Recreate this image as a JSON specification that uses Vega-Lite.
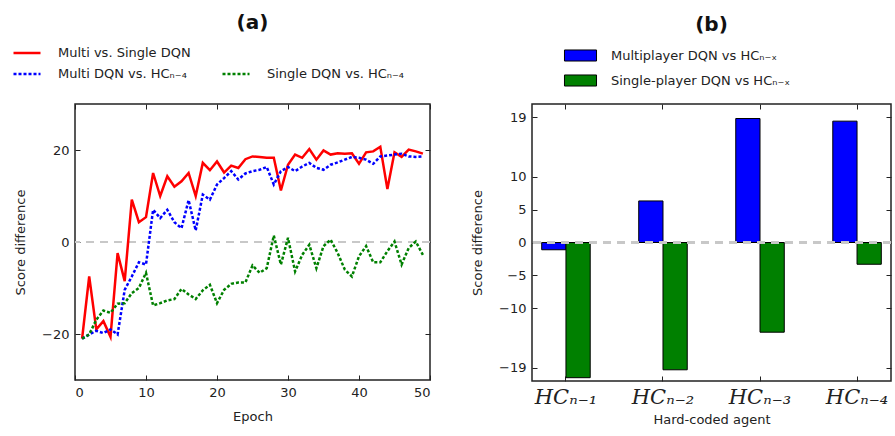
{
  "$schema": "https://vega.github.io/schema/vega-lite/v6.json",
  "background": "white",
  "padding": {"left": 11, "top": 12, "right": 0, "bottom": 0},
  "spacing": 102,
  "bounds": "flush",
  "resolve": {"scale": {"color": "independent"}, "legend": {"color": "independent"}},
  "config": {
    "font": "DejaVu Sans",
    "view": {"stroke": "#222222", "strokeWidth": 1.5},
    "axis": {"grid": false, "domain": false, "tickColor": "#222222", "tickSize": -5, "tickWidth": 1, "labelFontSize": 13, "labelColor": "#222222", "titleFontSize": 13, "titleFontWeight": "normal", "titleColor": "#222222", "labelPadding": 12, "titlePadding": 8},
    "title": {"fontSize": 20, "fontWeight": "bold", "color": "#111111", "font": "DejaVu Sans"},
    "legend": {"labelFontSize": 13, "labelColor": "#222222", "labelFont": "DejaVu Sans", "padding": 0, "labelLimit": 400}
  },
  "hconcat": [
    {
      "width": 355,
      "height": 276,
      "title": {"text": "(a)", "offset": 5},
      "data": {"values": [
        {"epoch":1,"value":-21,"series":"Multi vs. Single DQN"},{"epoch":2,"value":-7.5,"series":"Multi vs. Single DQN"},{"epoch":3,"value":-19,"series":"Multi vs. Single DQN"},{"epoch":4,"value":-17.2,"series":"Multi vs. Single DQN"},{"epoch":5,"value":-20.6,"series":"Multi vs. Single DQN"},{"epoch":6,"value":-2.4,"series":"Multi vs. Single DQN"},{"epoch":7,"value":-8.5,"series":"Multi vs. Single DQN"},{"epoch":8,"value":9.2,"series":"Multi vs. Single DQN"},{"epoch":9,"value":4.3,"series":"Multi vs. Single DQN"},{"epoch":10,"value":5.4,"series":"Multi vs. Single DQN"},
        {"epoch":11,"value":15,"series":"Multi vs. Single DQN"},{"epoch":12,"value":10,"series":"Multi vs. Single DQN"},{"epoch":13,"value":14.3,"series":"Multi vs. Single DQN"},{"epoch":14,"value":12,"series":"Multi vs. Single DQN"},{"epoch":15,"value":13.2,"series":"Multi vs. Single DQN"},{"epoch":16,"value":15,"series":"Multi vs. Single DQN"},{"epoch":17,"value":10,"series":"Multi vs. Single DQN"},{"epoch":18,"value":17.2,"series":"Multi vs. Single DQN"},{"epoch":19,"value":15.6,"series":"Multi vs. Single DQN"},{"epoch":20,"value":17.5,"series":"Multi vs. Single DQN"},
        {"epoch":21,"value":15.1,"series":"Multi vs. Single DQN"},{"epoch":22,"value":16.6,"series":"Multi vs. Single DQN"},{"epoch":23,"value":16.1,"series":"Multi vs. Single DQN"},{"epoch":24,"value":18,"series":"Multi vs. Single DQN"},{"epoch":25,"value":18.6,"series":"Multi vs. Single DQN"},{"epoch":26,"value":18.5,"series":"Multi vs. Single DQN"},{"epoch":27,"value":18.3,"series":"Multi vs. Single DQN"},{"epoch":28,"value":18.3,"series":"Multi vs. Single DQN"},{"epoch":29,"value":11.2,"series":"Multi vs. Single DQN"},{"epoch":30,"value":16.8,"series":"Multi vs. Single DQN"},
        {"epoch":31,"value":19,"series":"Multi vs. Single DQN"},{"epoch":32,"value":18.3,"series":"Multi vs. Single DQN"},{"epoch":33,"value":20.2,"series":"Multi vs. Single DQN"},{"epoch":34,"value":17.9,"series":"Multi vs. Single DQN"},{"epoch":35,"value":19.9,"series":"Multi vs. Single DQN"},{"epoch":36,"value":19,"series":"Multi vs. Single DQN"},{"epoch":37,"value":19.3,"series":"Multi vs. Single DQN"},{"epoch":38,"value":19.2,"series":"Multi vs. Single DQN"},{"epoch":39,"value":19.3,"series":"Multi vs. Single DQN"},{"epoch":40,"value":17,"series":"Multi vs. Single DQN"},
        {"epoch":41,"value":19.5,"series":"Multi vs. Single DQN"},{"epoch":42,"value":19.7,"series":"Multi vs. Single DQN"},{"epoch":43,"value":20.7,"series":"Multi vs. Single DQN"},{"epoch":44,"value":11.5,"series":"Multi vs. Single DQN"},{"epoch":45,"value":19.5,"series":"Multi vs. Single DQN"},{"epoch":46,"value":18.5,"series":"Multi vs. Single DQN"},{"epoch":47,"value":20.1,"series":"Multi vs. Single DQN"},{"epoch":48,"value":19.7,"series":"Multi vs. Single DQN"},{"epoch":49,"value":19.2,"series":"Multi vs. Single DQN"},
        {"epoch":1,"value":-21,"series":"Multi DQN vs. HCₙ₋₄"},{"epoch":2,"value":-20.1,"series":"Multi DQN vs. HCₙ₋₄"},{"epoch":3,"value":-19.3,"series":"Multi DQN vs. HCₙ₋₄"},{"epoch":4,"value":-19.8,"series":"Multi DQN vs. HCₙ₋₄"},{"epoch":5,"value":-19,"series":"Multi DQN vs. HCₙ₋₄"},{"epoch":6,"value":-20.1,"series":"Multi DQN vs. HCₙ₋₄"},{"epoch":7,"value":-10.4,"series":"Multi DQN vs. HCₙ₋₄"},{"epoch":8,"value":-7.5,"series":"Multi DQN vs. HCₙ₋₄"},{"epoch":9,"value":-4.4,"series":"Multi DQN vs. HCₙ₋₄"},{"epoch":10,"value":-4.9,"series":"Multi DQN vs. HCₙ₋₄"},
        {"epoch":11,"value":7,"series":"Multi DQN vs. HCₙ₋₄"},{"epoch":12,"value":5.2,"series":"Multi DQN vs. HCₙ₋₄"},{"epoch":13,"value":7,"series":"Multi DQN vs. HCₙ₋₄"},{"epoch":14,"value":4.3,"series":"Multi DQN vs. HCₙ₋₄"},{"epoch":15,"value":3,"series":"Multi DQN vs. HCₙ₋₄"},{"epoch":16,"value":9.1,"series":"Multi DQN vs. HCₙ₋₄"},{"epoch":17,"value":2.5,"series":"Multi DQN vs. HCₙ₋₄"},{"epoch":18,"value":10.3,"series":"Multi DQN vs. HCₙ₋₄"},{"epoch":19,"value":9.2,"series":"Multi DQN vs. HCₙ₋₄"},{"epoch":20,"value":12.5,"series":"Multi DQN vs. HCₙ₋₄"},
        {"epoch":21,"value":13.9,"series":"Multi DQN vs. HCₙ₋₄"},{"epoch":22,"value":15.4,"series":"Multi DQN vs. HCₙ₋₄"},{"epoch":23,"value":13.6,"series":"Multi DQN vs. HCₙ₋₄"},{"epoch":24,"value":14.9,"series":"Multi DQN vs. HCₙ₋₄"},{"epoch":25,"value":15.4,"series":"Multi DQN vs. HCₙ₋₄"},{"epoch":26,"value":15.7,"series":"Multi DQN vs. HCₙ₋₄"},{"epoch":27,"value":16.3,"series":"Multi DQN vs. HCₙ₋₄"},{"epoch":28,"value":12.5,"series":"Multi DQN vs. HCₙ₋₄"},{"epoch":29,"value":15.4,"series":"Multi DQN vs. HCₙ₋₄"},{"epoch":30,"value":16.3,"series":"Multi DQN vs. HCₙ₋₄"},
        {"epoch":31,"value":15.4,"series":"Multi DQN vs. HCₙ₋₄"},{"epoch":32,"value":16.4,"series":"Multi DQN vs. HCₙ₋₄"},{"epoch":33,"value":17.2,"series":"Multi DQN vs. HCₙ₋₄"},{"epoch":34,"value":16.1,"series":"Multi DQN vs. HCₙ₋₄"},{"epoch":35,"value":15.7,"series":"Multi DQN vs. HCₙ₋₄"},{"epoch":36,"value":16.8,"series":"Multi DQN vs. HCₙ₋₄"},{"epoch":37,"value":17.3,"series":"Multi DQN vs. HCₙ₋₄"},{"epoch":38,"value":17.9,"series":"Multi DQN vs. HCₙ₋₄"},{"epoch":39,"value":18.5,"series":"Multi DQN vs. HCₙ₋₄"},{"epoch":40,"value":18.3,"series":"Multi DQN vs. HCₙ₋₄"},
        {"epoch":41,"value":17.9,"series":"Multi DQN vs. HCₙ₋₄"},{"epoch":42,"value":17,"series":"Multi DQN vs. HCₙ₋₄"},{"epoch":43,"value":18.6,"series":"Multi DQN vs. HCₙ₋₄"},{"epoch":44,"value":18.8,"series":"Multi DQN vs. HCₙ₋₄"},{"epoch":45,"value":19,"series":"Multi DQN vs. HCₙ₋₄"},{"epoch":46,"value":19.2,"series":"Multi DQN vs. HCₙ₋₄"},{"epoch":47,"value":18.6,"series":"Multi DQN vs. HCₙ₋₄"},{"epoch":48,"value":18.5,"series":"Multi DQN vs. HCₙ₋₄"},{"epoch":49,"value":18.6,"series":"Multi DQN vs. HCₙ₋₄"},
        {"epoch":1,"value":-21,"series":"Single DQN vs. HCₙ₋₄"},{"epoch":2,"value":-20.1,"series":"Single DQN vs. HCₙ₋₄"},{"epoch":3,"value":-16.9,"series":"Single DQN vs. HCₙ₋₄"},{"epoch":4,"value":-14.9,"series":"Single DQN vs. HCₙ₋₄"},{"epoch":5,"value":-15.4,"series":"Single DQN vs. HCₙ₋₄"},{"epoch":6,"value":-13.4,"series":"Single DQN vs. HCₙ₋₄"},{"epoch":7,"value":-13.3,"series":"Single DQN vs. HCₙ₋₄"},{"epoch":8,"value":-11.1,"series":"Single DQN vs. HCₙ₋₄"},{"epoch":9,"value":-10,"series":"Single DQN vs. HCₙ₋₄"},{"epoch":10,"value":-6.7,"series":"Single DQN vs. HCₙ₋₄"},
        {"epoch":11,"value":-13.8,"series":"Single DQN vs. HCₙ₋₄"},{"epoch":12,"value":-13.3,"series":"Single DQN vs. HCₙ₋₄"},{"epoch":13,"value":-12.7,"series":"Single DQN vs. HCₙ₋₄"},{"epoch":14,"value":-12.4,"series":"Single DQN vs. HCₙ₋₄"},{"epoch":15,"value":-10.2,"series":"Single DQN vs. HCₙ₋₄"},{"epoch":16,"value":-11.4,"series":"Single DQN vs. HCₙ₋₄"},{"epoch":17,"value":-12.4,"series":"Single DQN vs. HCₙ₋₄"},{"epoch":18,"value":-10.5,"series":"Single DQN vs. HCₙ₋₄"},{"epoch":19,"value":-9.3,"series":"Single DQN vs. HCₙ₋₄"},{"epoch":20,"value":-13.3,"series":"Single DQN vs. HCₙ₋₄"},
        {"epoch":21,"value":-10.4,"series":"Single DQN vs. HCₙ₋₄"},{"epoch":22,"value":-9.1,"series":"Single DQN vs. HCₙ₋₄"},{"epoch":23,"value":-8.8,"series":"Single DQN vs. HCₙ₋₄"},{"epoch":24,"value":-8.8,"series":"Single DQN vs. HCₙ₋₄"},{"epoch":25,"value":-5.1,"series":"Single DQN vs. HCₙ₋₄"},{"epoch":26,"value":-6.7,"series":"Single DQN vs. HCₙ₋₄"},{"epoch":27,"value":-5.7,"series":"Single DQN vs. HCₙ₋₄"},{"epoch":28,"value":1.4,"series":"Single DQN vs. HCₙ₋₄"},{"epoch":29,"value":-4.9,"series":"Single DQN vs. HCₙ₋₄"},{"epoch":30,"value":0.9,"series":"Single DQN vs. HCₙ₋₄"},
        {"epoch":31,"value":-6.4,"series":"Single DQN vs. HCₙ₋₄"},{"epoch":32,"value":-2.8,"series":"Single DQN vs. HCₙ₋₄"},{"epoch":33,"value":-0.6,"series":"Single DQN vs. HCₙ₋₄"},{"epoch":34,"value":-5.7,"series":"Single DQN vs. HCₙ₋₄"},{"epoch":35,"value":-0.9,"series":"Single DQN vs. HCₙ₋₄"},{"epoch":36,"value":0.5,"series":"Single DQN vs. HCₙ₋₄"},{"epoch":37,"value":-2.4,"series":"Single DQN vs. HCₙ₋₄"},{"epoch":38,"value":-6,"series":"Single DQN vs. HCₙ₋₄"},{"epoch":39,"value":-7.5,"series":"Single DQN vs. HCₙ₋₄"},{"epoch":40,"value":-3.1,"series":"Single DQN vs. HCₙ₋₄"},
        {"epoch":41,"value":-0.9,"series":"Single DQN vs. HCₙ₋₄"},{"epoch":42,"value":-4.4,"series":"Single DQN vs. HCₙ₋₄"},{"epoch":43,"value":-4.4,"series":"Single DQN vs. HCₙ₋₄"},{"epoch":44,"value":-2,"series":"Single DQN vs. HCₙ₋₄"},{"epoch":45,"value":0.1,"series":"Single DQN vs. HCₙ₋₄"},{"epoch":46,"value":-4.9,"series":"Single DQN vs. HCₙ₋₄"},{"epoch":47,"value":-1.3,"series":"Single DQN vs. HCₙ₋₄"},{"epoch":48,"value":0.1,"series":"Single DQN vs. HCₙ₋₄"},{"epoch":49,"value":-2.8,"series":"Single DQN vs. HCₙ₋₄"}
      ]},
      "layer": [
        {
          "mark": {"type": "rule", "color": "#c8c8c8", "strokeWidth": 2, "strokeDash": [8, 6]},
          "encoding": {"y": {"datum": 0, "type": "quantitative", "scale": {"domain": [-30, 30], "nice": false}, "axis": null}}
        },
        {
          "transform": [{"filter": "datum.series === 'Multi vs. Single DQN'"}],
          "mark": {"type": "line", "strokeWidth": 2.5},
          "encoding": {
            "x": {"field": "epoch", "type": "quantitative", "scale": {"domain": [0, 50], "nice": false}, "axis": {"orient": "top", "labels": false, "title": null, "values": [0, 10, 20, 30, 40, 50]}},
            "y": {"field": "value", "type": "quantitative", "scale": {"domain": [-30, 30], "nice": false}, "axis": {"orient": "right", "labels": false, "title": null, "values": [-20, 0, 20]}},
            "color": {"field": "series", "type": "nominal", "scale": {"domain": ["Multi vs. Single DQN"], "range": ["#ff0000"]},
              "legend": {"orient": "none", "legendX": -63, "legendY": -66, "title": null, "symbolType": "stroke", "symbolSize": 729, "symbolStrokeWidth": 2.5, "labelOffset": 16}}
          }
        },
        {
          "transform": [{"filter": "datum.series !== 'Multi vs. Single DQN'"}],
          "mark": {"type": "line", "strokeWidth": 2.5, "strokeDash": [3, 2]},
          "encoding": {
            "x": {"field": "epoch", "type": "quantitative", "scale": {"domain": [0, 50], "nice": false}, "axis": {"orient": "bottom", "title": "Epoch", "values": [0, 10, 20, 30, 40, 50], "labelPadding": 11, "titlePadding": 11}},
            "y": {"field": "value", "type": "quantitative", "scale": {"domain": [-30, 30], "nice": false}, "axis": {"orient": "left", "title": "Score difference", "values": [-20, 0, 20], "labelPadding": 11, "titlePadding": 14}},
            "color": {"field": "series", "type": "nominal", "scale": {"domain": ["Multi DQN vs. HCₙ₋₄", "Single DQN vs. HCₙ₋₄"], "range": ["#0000ff", "#008000"]},
              "legend": {"orient": "none", "legendX": -63, "legendY": -45, "title": null, "columns": 2, "columnPadding": 30, "symbolType": "stroke", "symbolSize": 729, "symbolStrokeWidth": 2.5, "symbolDash": [3, 2], "labelOffset": 16}}
          }
        }
      ],
      "resolve": {"scale": {"color": "independent"}, "legend": {"color": "independent"}, "axis": {"x": "independent", "y": "independent"}}
    },
    {
      "width": 359,
      "height": 277,
      "title": {"text": "(b)", "offset": 14},
      "data": {"values": [
        {"agent": "HCₙ₋₁", "series": "Multiplayer DQN vs HCₙ₋ₓ", "value": -1.1},
        {"agent": "HCₙ₋₁", "series": "Single-player DQN vs HCₙ₋ₓ", "value": -20.5},
        {"agent": "HCₙ₋₂", "series": "Multiplayer DQN vs HCₙ₋ₓ", "value": 6.3},
        {"agent": "HCₙ₋₂", "series": "Single-player DQN vs HCₙ₋ₓ", "value": -19.3},
        {"agent": "HCₙ₋₃", "series": "Multiplayer DQN vs HCₙ₋ₓ", "value": 18.8},
        {"agent": "HCₙ₋₃", "series": "Single-player DQN vs HCₙ₋ₓ", "value": -13.6},
        {"agent": "HCₙ₋₄", "series": "Multiplayer DQN vs HCₙ₋ₓ", "value": 18.4},
        {"agent": "HCₙ₋₄", "series": "Single-player DQN vs HCₙ₋ₓ", "value": -3.3}
      ]},
      "layer": [
        {
          "mark": {"type": "bar", "stroke": "black", "strokeWidth": 1},
          "encoding": {
            "x": {"field": "agent", "type": "nominal", "sort": null, "scale": {"paddingInner": 0.5, "paddingOuter": 0.1}, "axis": {"orient": "bottom", "title": "Hard-coded agent", "labelAngle": 0, "labelFont": "DejaVu Serif", "labelFontStyle": "italic", "labelFontSize": 21, "labelPadding": 10, "titlePadding": 6}},
            "xOffset": {"field": "series", "type": "nominal", "sort": null, "scale": {"paddingInner": 0, "paddingOuter": 0}},
            "y": {"field": "value", "type": "quantitative", "scale": {"domain": [-21, 21], "nice": false}, "axis": {"orient": "left", "title": "Score difference", "values": [-19, -10, -5, 0, 5, 10, 19], "labelPadding": 11, "titlePadding": 14}},
            "color": {"field": "series", "type": "nominal", "sort": null, "scale": {"range": ["#0000ff", "#008000"]},
              "legend": {"orient": "none", "legendX": 42, "legendY": -55, "title": null, "symbolType": "M-2.67,-0.92H2.67V0.92H-2.67Z", "symbolSize": 144, "symbolStrokeColor": "black", "symbolStrokeWidth": 1, "labelOffset": 24, "rowPadding": 8}}
          }
        },
        {
          "mark": {"type": "rule", "color": "#c8c8c8", "strokeWidth": 2, "strokeDash": [8, 6]},
          "encoding": {"y": {"datum": 0, "type": "quantitative", "axis": null}}
        },
        {
          "mark": {"type": "bar", "opacity": 0},
          "encoding": {
            "x": {"field": "agent", "type": "nominal", "sort": null, "axis": {"orient": "top", "labels": false, "title": null}},
            "y": {"field": "value", "type": "quantitative", "axis": {"orient": "right", "labels": false, "title": null, "values": [-19, -10, -5, 0, 5, 10, 19]}}
          }
        }
      ],
      "resolve": {"axis": {"x": "independent", "y": "independent"}}
    }
  ]
}
